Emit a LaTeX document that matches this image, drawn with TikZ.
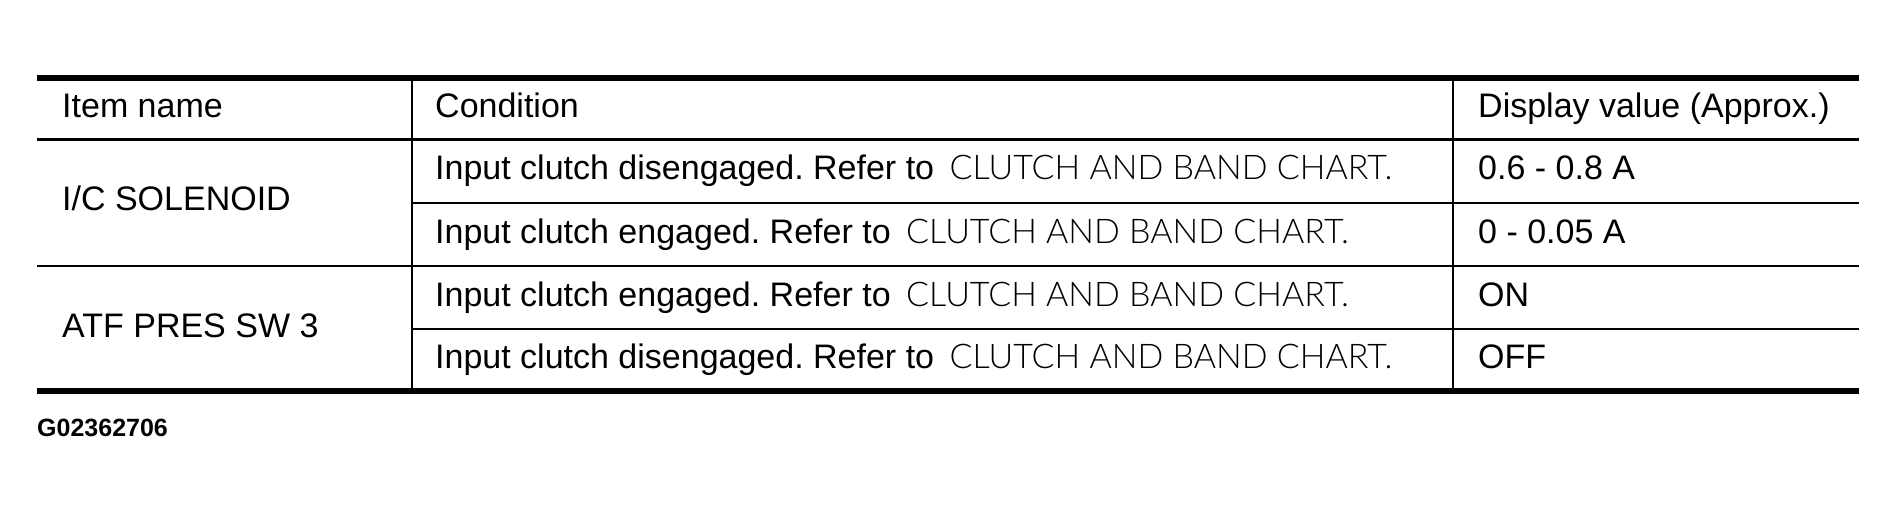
\documentclass[tikz,border=0pt]{standalone}
\usepackage{fontspec}
\setmainfont{Liberation Sans}
\newfontfamily\lightfont{Lato Light}
\newcommand\cbchart{\hspace{6pt}{\lightfont CLUTCH AND BAND CHART.}}
\frenchspacing
\begin{document}
\begin{tikzpicture}[x=1pt,y=-1pt,
  txt/.style={anchor=base west,inner sep=0pt,font=\fontsize{34}{40}\selectfont},
  code/.style={anchor=base west,inner sep=0pt,font=\fontsize{25}{30}\selectfont\bfseries},
  thickrule/.style={line width=6pt},
  headrule/.style={line width=3pt},
  rowrule/.style={line width=2pt},
  colrule/.style={line width=2pt}]
\useasboundingbox (0,0) rectangle (1896,513);
\fill[white] (0,0) rectangle (1896,513);
% rules
\draw[thickrule] (37,78) -- (1859,78);
\draw[headrule] (37,140) -- (1859,140);
\draw[rowrule] (411.5,203) -- (1859,203);
\draw[rowrule] (37,266.5) -- (1859,266.5);
\draw[rowrule] (411.5,328.5) -- (1859,328.5);
\draw[thickrule] (37,391) -- (1859,391);
\draw[colrule] (411.5,78) -- (411.5,391);
\draw[colrule] (1453,78) -- (1453,391);
% header
\node[txt] (hitem) at (62,118) {Item name};
\node[txt] (hcond) at (435,118) {Condition};
\node[txt] (hval) at (1478,118) {Display value (Approx.)};
% items
\node[txt] (ic) at (62,211) {I/C SOLENOID};
\node[txt] (atf) at (62,337.5) {ATF PRES SW 3};
% conditions
\node[txt] (c1) at (435,179.5) {Input clutch disengaged. Refer to \cbchart};
\node[txt] (c2) at (435,243.5) {Input clutch engaged. Refer to \cbchart};
\node[txt] (c3) at (435,306) {Input clutch engaged. Refer to \cbchart};
\node[txt] (c4) at (435,368.5) {Input clutch disengaged. Refer to \cbchart};
% values
\node[txt] (v1) at (1478,179.5) {0.6 - 0.8 A};
\node[txt] (v2) at (1478,243.5) {0 - 0.05 A};
\node[txt] (v3) at (1478,306) {ON};
\node[txt] (v4) at (1478,368.5) {OFF};
% figure code
\node[code] (gcode) at (37,436) {G02362706};
\end{tikzpicture}
\end{document}
